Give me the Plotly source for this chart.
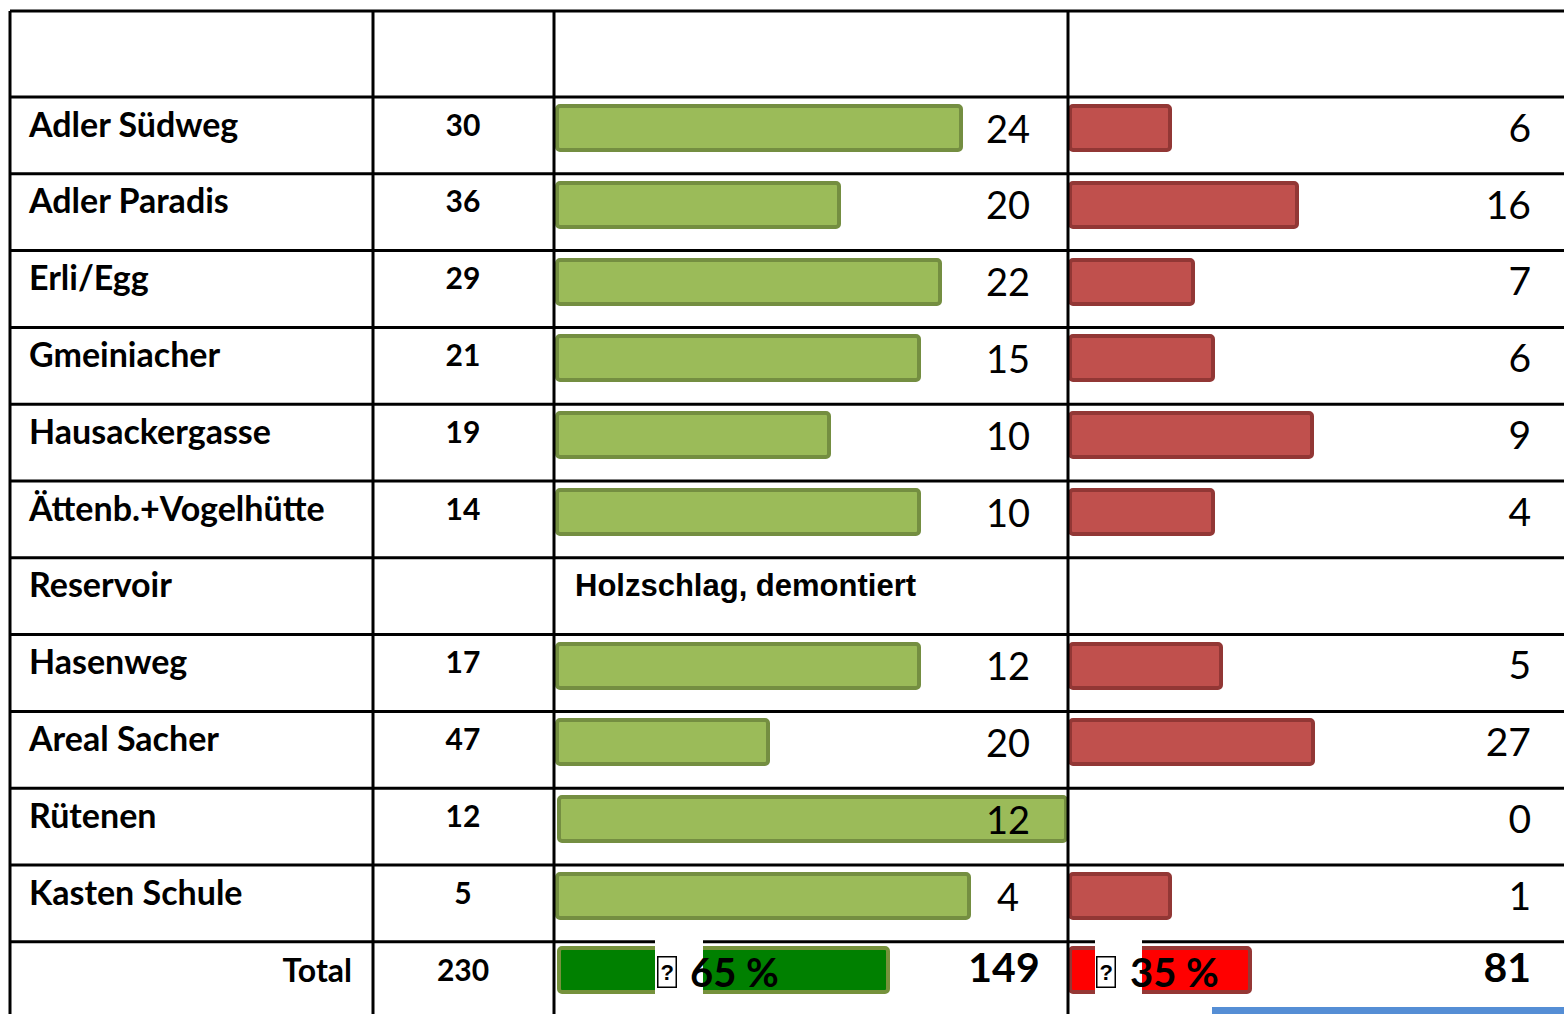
import plotly.graph_objects as go

# ---------------- data ----------------
names = ["Adler Südweg", "Adler Paradis", "Erli/Egg", "Gmeiniacher", "Hausackergasse",
         "Ättenb.+Vogelhütte", "Reservoir", "Hasenweg", "Areal Sacher", "Rütenen", "Kasten Schule"]
totals = [30, 36, 29, 21, 19, 14, None, 17, 47, 12, 5]
green_vals = [24, 20, 22, 15, 10, 10, None, 12, 20, 12, 4]
red_vals = [6, 16, 7, 6, 9, 4, None, 5, 27, 0, 1]
# drawn bar lengths as they appear in the picture (not proportional to values)
green_drawn = [404, 282, 383, 362, 272, 362, None, 362, 211, 507, 412]
red_drawn = [100, 227, 123, 143, 242, 143, None, 151, 243, 0, 100]
reservoir_note = "Holzschlag, demontiert"
total_label = "Total"
total_all = 230
total_green = 149
total_red = 81
pct_green = "65 %"
pct_red = "35 %"
total_green_drawn = 329
total_red_drawn = 180

# ---------------- geometry ----------------
W, H = 1564, 1014
col_x = [10, 373, 554, 1068]
top = 11
header_bottom = 97
row_h = 76.8
n = len(names)
row_top = [header_bottom + i * row_h for i in range(n)]
total_top = header_bottom + n * row_h
green_x0 = col_x[2] + 3
red_x0 = col_x[3] + 2
bar_w = 44

fig = go.Figure()

idx = [i for i in range(n) if green_drawn[i] is not None]
ridx = [i for i in range(n) if red_drawn[i] is not None and red_drawn[i] > 0]

fig.add_trace(go.Bar(
    orientation="h", y=[row_top[i] + 31 for i in idx], x=[green_drawn[i] for i in idx],
    base=[green_x0 + (2 if green_drawn[i] > 500 else 0) for i in idx], width=bar_w,
    marker=dict(color="#9BBB59", line=dict(color="#748E41", width=4), cornerradius=3),
    hoverinfo="skip", showlegend=False))
fig.add_trace(go.Bar(
    orientation="h", y=[row_top[i] + 31 for i in ridx], x=[red_drawn[i] for i in ridx],
    base=red_x0, width=bar_w,
    marker=dict(color="#C0504D", line=dict(color="#923735", width=4), cornerradius=3),
    hoverinfo="skip", showlegend=False))
# total bars
fig.add_trace(go.Bar(
    orientation="h", y=[total_top + 28], x=[total_green_drawn], base=green_x0 + 2, width=bar_w,
    marker=dict(color="#008000", line=dict(color="#76923C", width=4), cornerradius=3),
    hoverinfo="skip", showlegend=False))
fig.add_trace(go.Bar(
    orientation="h", y=[total_top + 28], x=[total_red_drawn], base=red_x0, width=bar_w,
    marker=dict(color="#FF0000", line=dict(color="#953735", width=4), cornerradius=3),
    hoverinfo="skip", showlegend=False))

calibri = "Lato"
arial = "Liberation Sans, Arial"
# names
fig.add_trace(go.Scatter(
    x=[29] * n, y=[t + 31 for t in row_top], text=names, mode="text",
    textposition="middle right", textfont=dict(family=calibri, size=34, color="black", weight="bold"),
    hoverinfo="skip", showlegend=False))
# totals per row
ti = [i for i in range(n) if totals[i] is not None]
fig.add_trace(go.Scatter(
    x=[463] * len(ti), y=[row_top[i] + 31 for i in ti], text=[str(totals[i]) for i in ti], mode="text",
    textposition="middle center", textfont=dict(family=calibri, size=30, color="black", weight="bold"),
    hoverinfo="skip", showlegend=False))
# green values
gi = [i for i in range(n) if green_vals[i] is not None]
fig.add_trace(go.Scatter(
    x=[1008] * len(gi), y=[row_top[i] + 36 for i in gi], text=[str(green_vals[i]) for i in gi], mode="text",
    textposition="middle center", textfont=dict(family=calibri, size=38, color="black"),
    hoverinfo="skip", showlegend=False))
# red values
fig.add_trace(go.Scatter(
    x=[1531] * len(gi), y=[row_top[i] + 35 for i in gi], text=[str(red_vals[i]) for i in gi], mode="text",
    textposition="middle left", textfont=dict(family=calibri, size=39, color="black"),
    hoverinfo="skip", showlegend=False))
# total row texts
fig.add_trace(go.Scatter(
    x=[352], y=[total_top + 32], text=[total_label], mode="text", textposition="middle left",
    textfont=dict(family=calibri, size=32, color="black", weight="bold"), hoverinfo="skip", showlegend=False))
fig.add_trace(go.Scatter(
    x=[463], y=[total_top + 32], text=[str(total_all)], mode="text", textposition="middle center",
    textfont=dict(family=calibri, size=30, color="black", weight="bold"), hoverinfo="skip", showlegend=False))
fig.add_trace(go.Scatter(
    x=[1004, 1531], y=[total_top + 30] * 2, text=[str(total_green), str(total_red)], mode="text",
    textposition=["middle center", "middle left"],
    textfont=dict(family=calibri, size=41, color="black", weight="bold"), hoverinfo="skip", showlegend=False))

shapes = []
line = dict(color="black", width=3)
for x in col_x:
    shapes.append(dict(type="line", x0=x, x1=x, y0=top, y1=H + 20, line=line, layer="above"))
hy = [top, header_bottom] + [header_bottom + (i + 1) * row_h for i in range(n)]
for y in hy:
    shapes.append(dict(type="line", x0=col_x[0], x1=W + 20, y0=y, y1=y, line=line, layer="above"))
# white text-box backgrounds in total row
shapes.append(dict(type="rect", x0=655, x1=703, y0=total_top - 2, y1=total_top + 53,
                   fillcolor="white", line=dict(width=0), layer="above"))
shapes.append(dict(type="rect", x0=1095, x1=1142, y0=total_top - 2, y1=total_top + 53,
                   fillcolor="white", line=dict(width=0), layer="above"))
# blue strip bottom right
shapes.append(dict(type="rect", x0=1212, x1=W + 20, y0=1007, y1=H + 20,
                   fillcolor="#558ED5", line=dict(width=0), layer="above"))

annotations = [
    dict(x=573, y=row_top[6] + 28, text=f"<b>{reservoir_note}</b>", showarrow=False, xanchor="left",
         font=dict(family=arial, size=31, color="black")),
    dict(x=667, y=total_top + 30, text="<b>?</b>", showarrow=False, font=dict(family=arial, size=22, color="black"),
         bordercolor="black", borderwidth=1.5, borderpad=2, bgcolor="white"),
    dict(x=688, y=total_top + 30, text=f"<b>{pct_green}</b>", showarrow=False, xanchor="left",
         font=dict(family=calibri, size=40, color="black")),
    dict(x=1106, y=total_top + 30, text="<b>?</b>", showarrow=False, font=dict(family=arial, size=22, color="black"),
         bordercolor="black", borderwidth=1.5, borderpad=2, bgcolor="white"),
    dict(x=1128, y=total_top + 30, text=f"<b>{pct_red}</b>", showarrow=False, xanchor="left",
         font=dict(family=calibri, size=40, color="black")),
]

fig.update_layout(
    width=W, height=H, margin=dict(l=0, r=0, t=0, b=0),
    paper_bgcolor="white", plot_bgcolor="white",
    xaxis=dict(range=[0, W], visible=False, fixedrange=True),
    yaxis=dict(range=[H, 0], visible=False, fixedrange=True),
    shapes=shapes, annotations=annotations, barmode="overlay", bargap=0,
)
fig.write_html(
    "out.html",
    config={"displayModeBar": False},
    post_script="document.body.style.margin='0';document.body.style.overflow='hidden';",
)
